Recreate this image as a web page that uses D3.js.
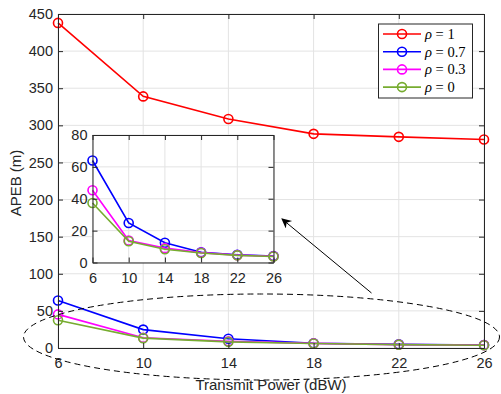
<!DOCTYPE html>
<html><head><meta charset="utf-8">
<script src="https://cdn.jsdelivr.net/npm/d3@7"></script>
<style>body{margin:0;background:#fff}svg{display:block}text{font-family:"Liberation Sans",Arial,sans-serif}</style>
</head><body><svg id="c" width="501" height="394"></svg>
<script>
const power = [6, 10, 14, 18, 22, 26];
const rho1  = [438, 339, 308.5, 288.5, 284.5, 281];
const rho07 = [64, 24.8, 12.4, 6.4, 4.9, 4.1];
const rho03 = [45.3, 13.8, 9.0, 6.2, 4.6, 3.9];
const rho0  = [37.3, 13.3, 8.3, 6.0, 4.5, 3.8];
const seriesNames = ["1", "0.7", "0.3", "0"];
const seriesColors = ["#ff0000", "#0000ff", "#ff00ff", "#77ac30"];
const mainYTicks = [0, 50, 100, 150, 200, 250, 300, 350, 400, 450];
const insetYTicks = [0, 20, 40, 60, 80];

const allSeries = [rho1, rho07, rho03, rho0];
const svg = d3.select("#c");

function panel(g, x, y, yTicks, series, fs) {
  g.append("rect").attr("x", x.range()[0]).attr("y", y.range()[1])
    .attr("width", x.range()[1]-x.range()[0]).attr("height", y.range()[0]-y.range()[1])
    .attr("fill", "#fff");
  g.append("g").selectAll("line").data(power).join("line")
    .attr("x1", d=>x(d)).attr("x2", d=>x(d)).attr("y1", y.range()[0]).attr("y2", y.range()[1])
    .attr("stroke", "#e3e3e3").attr("stroke-width", 1);
  g.append("g").selectAll("line").data(yTicks).join("line")
    .attr("y1", d=>y(d)).attr("y2", d=>y(d)).attr("x1", x.range()[0]).attr("x2", x.range()[1])
    .attr("stroke", "#e3e3e3").attr("stroke-width", 1);
  const line = d3.line().x((d,i)=>x(power[i])).y(d=>y(d));
  series.forEach((s) => {
    const idx = allSeries.indexOf(s);
    const col = seriesColors[idx];
    g.append("path").datum(s).attr("d", line).attr("fill", "none")
      .attr("stroke", col).attr("stroke-width", 1.6);
    g.append("g").selectAll("circle").data(s).join("circle")
      .attr("cx", (d,i)=>x(power[i])).attr("cy", d=>y(d)).attr("r", 4.5)
      .attr("fill", "none").attr("stroke", col).attr("stroke-width", 1.6);
  });
  const tl = 5;
  const ax = d3.axisBottom(x).tickValues(power).tickSizeInner(-tl).tickSizeOuter(0).tickPadding(10);
  const ay = d3.axisLeft(y).tickValues(yTicks).tickSizeInner(-tl).tickSizeOuter(0).tickPadding(5);
  const axT = d3.axisTop(x).tickValues(power).tickSizeInner(-tl).tickSizeOuter(0).tickFormat("");
  const ayR = d3.axisRight(y).tickValues(yTicks).tickSizeInner(-tl).tickSizeOuter(0).tickFormat("");
  const gx = g.append("g").attr("transform", `translate(0,${y.range()[0]})`).call(ax);
  const gy = g.append("g").attr("transform", `translate(${x.range()[0]},0)`).call(ay);
  const gt = g.append("g").attr("transform", `translate(0,${y.range()[1]})`).call(axT);
  const gr = g.append("g").attr("transform", `translate(${x.range()[1]},0)`).call(ayR);
  [gx, gy, gt, gr].forEach(a => {
    a.selectAll("path").attr("stroke", "#262626").attr("stroke-width", 1);
    a.selectAll("line").attr("stroke", "#262626").attr("stroke-width", 1);
    a.selectAll("text").attr("fill", "#262626").style("font-size", fs + "px")
      .style("font-family", '"Liberation Sans", Arial, sans-serif');
  });
}

const x = d3.scaleLinear().domain([6, 26]).range([58, 484]);
const y = d3.scaleLinear().domain([0, 450]).range([348, 14]);
const gMain = svg.append("g");
panel(gMain, x, y, mainYTicks, allSeries, 14.5);

svg.append("text").attr("x", 271).attr("y", 390).attr("text-anchor", "middle")
  .attr("fill", "#262626").style("font-size", "15px").text("Transmit Power (dBW)");
svg.append("text").attr("transform", "translate(21,183) rotate(-90)").attr("text-anchor", "middle")
  .attr("fill", "#262626").style("font-size", "15px").text("APEB (m)");

const leg = svg.append("g");
leg.append("rect").attr("x", 378.5).attr("y", 24).attr("width", 94).attr("height", 74)
  .attr("fill", "#fff").attr("stroke", "#262626").attr("stroke-width", 1);
seriesNames.forEach((n, i) => {
  const yy = 34 + i * 17.7;
  leg.append("line").attr("x1", 383).attr("x2", 421).attr("y1", yy).attr("y2", yy)
    .attr("stroke", seriesColors[i]).attr("stroke-width", 1.6);
  leg.append("circle").attr("cx", 402).attr("cy", yy).attr("r", 4.5).attr("fill", "none")
    .attr("stroke", seriesColors[i]).attr("stroke-width", 1.6);
  const t = leg.append("text").attr("x", 425).attr("y", yy + 5).attr("fill", "#000")
    .style("font-family", '"Liberation Serif","DejaVu Serif",serif').style("font-size", "14.5px");
  t.append("tspan").style("font-style", "italic").text("ρ");
  t.append("tspan").text(" = " + n);
});

const xi = d3.scaleLinear().domain([6, 26]).range([92.5, 273.5]);
const yi = d3.scaleLinear().domain([0, 80]).range([262.5, 135]);
const gIn = svg.append("g");
panel(gIn, xi, yi, insetYTicks, allSeries.slice(1), 14.5);

svg.append("ellipse").attr("cx", 261.5).attr("cy", 337).attr("rx", 238).attr("ry", 43)
  .attr("fill", "none").attr("stroke", "#000").attr("stroke-width", 1).attr("stroke-dasharray", "6,4");

svg.append("defs").append("marker").attr("id", "ah").attr("viewBox", "0 0 10 10")
  .attr("refX", 9).attr("refY", 5).attr("markerWidth", 12).attr("markerHeight", 10)
  .attr("markerUnits", "userSpaceOnUse").attr("orient", "auto")
  .append("path").attr("d", "M0,0 L10,5 L0,10 L3,5 Z").attr("fill", "#000");
svg.append("line").attr("x1", 371.5).attr("y1", 293).attr("x2", 282).attr("y2", 219)
  .attr("stroke", "#000").attr("stroke-width", 1).attr("marker-end", "url(#ah)");
</script></body></html>
